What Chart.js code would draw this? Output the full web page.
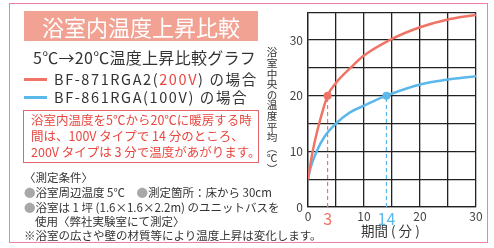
<!DOCTYPE html>
<html>
<head>
<meta charset="utf-8">
<script src="https://cdn.jsdelivr.net/npm/chart.js@4"></script>
<style>
  html, body { margin: 0; padding: 0; background: #fff; }
  body { width: 494px; height: 248px; position: relative; overflow: hidden;
         font-family: 'Noto Sans CJK JP', sans-serif; color: #333; }
  #wrap { position: absolute; left: 0; top: 0; width: 494px; height: 248px; }
  .frame { position: absolute; left: 9px; top: 3px; width: 479px; height: 240px;
           border: 1.5px solid #ef82a4; box-sizing: border-box; }
  .t { position: absolute; white-space: nowrap; line-height: 1; }
  .banner { position: absolute; left: 24px; top: 11px; width: 234px; height: 30px;
            background: #f2a293; color: #fff; font-size: 22px; text-align: center; line-height: 30px; }
  .leg { position: absolute; left: 24px; width: 23px; height: 3px; }
  .box { position: absolute; left: 23px; top: 110px; width: 236px; height: 53px;
         border: 1.5px solid #e2666a; box-sizing: border-box; }
  .red { color: #e8473f; }
  .dot { color: #a8a8a8; }
  .ytitle { position: absolute; left: 266px; top: 47px; font-size: 10.6px; line-height: 1;
            writing-mode: vertical-rl; text-orientation: upright; color: #333; }
</style>
</head>
<body>
<div id="wrap"><canvas id="chart"></canvas></div>
<div class="frame"></div>
<div class="banner">浴室内温度上昇比較</div>
<div class="t" style="left:33px;top:49px;font-size:16px;letter-spacing:0.3px;">5℃→20℃温度上昇比較グラフ</div>
<div class="leg" style="top:78px;background:#ef7466;"></div>
<div class="t" style="left:54px;top:72px;font-size:14.5px;letter-spacing:1.6px;">BF-871RGA2(<span class="red">200V</span>) の場合</div>
<div class="leg" style="top:96px;background:#5bb8ea;"></div>
<div class="t" style="left:54px;top:90px;font-size:14.5px;letter-spacing:1.6px;">BF-861RGA(100V) の場合</div>
<div class="box"></div>
<div class="t red" style="left:31px;top:114px;font-size:12.5px;">浴室内温度を5℃から20℃に暖房する時</div>
<div class="t red" style="left:31px;top:130px;font-size:12.5px;">間は、100V タイプで 14 分のところ、</div>
<div class="t red" style="left:31px;top:146px;font-size:12.5px;">200V タイプは 3 分で温度があがります。</div>
<div class="t" style="left:24px;top:172px;font-size:11.5px;">〈測定条件〉</div>
<div class="t" style="left:24px;top:187px;font-size:11.5px;"><span class="dot">●</span>浴室周辺温度 5℃　<span class="dot">●</span>測定箇所：床から 30cm</div>
<div class="t" style="left:24px;top:202px;font-size:11.5px;"><span class="dot">●</span>浴室は 1 坪 (1.6×1.6×2.2m) のユニットバスを</div>
<div class="t" style="left:35px;top:216px;font-size:11.5px;">使用〈弊社実験室にて測定〉</div>
<div class="t" style="left:24px;top:230px;font-size:11.5px;">※浴室の広さや壁の材質等により温度上昇は変化します。</div>
<div class="ytitle">浴室中央の温度平均（℃）</div>
<div class="t" style="left:361px;top:224px;font-size:13.5px;">期間 ( 分 )</div>
<script>
// 200V model (red) and 100V model (blue)
var redMinutes = [0, 0.84, 2.0, 3.5, 5, 7.5, 10, 15, 20, 25, 30];
var redTemps   = [5, 10, 15, 20, 22.3, 24.9, 27.2, 30.2, 32.3, 33.7, 34.5];
var blueMinutes = [0, 0.5, 1.55, 3, 5, 7.5, 10, 12.3, 14, 20, 25, 30];
var blueTemps   = [5, 7.2, 10, 12.7, 15, 17.0, 18.2, 19.3, 20, 22, 22.9, 23.5];
// 20 degree crossing marks
var redMark = { x: 3.5, y: 20, label: '3' };
var blueMark = { x: 14, y: 20, label: '14' };
var xTickValues = [0, 5, 10, 15, 20, 25, 30];
var xTickLabels = ['0', '', '10', '', '20', '', '30'];
var yTickLabels = { 0: '0', 10: '10', 20: '20', 30: '30' };

var RED = '#ef7466';
var BLUE = '#5bb8ea';

function pts(xs, ys) {
    return xs.map(function (x, i) { return { x: x, y: ys[i] }; });
}

var ctx = document.getElementById('chart').getContext('2d');
var myChart = new Chart(ctx, {
    type: 'scatter',
    data: {
        datasets: [{
            data: [{ x: redMark.x, y: 0 }, { x: redMark.x, y: redMark.y }],
            showLine: true,
            borderColor: RED,
            borderWidth: 1.2,
            borderDash: [4, 3],
            pointRadius: 0
        }, {
            data: [{ x: blueMark.x, y: 0 }, { x: blueMark.x, y: blueMark.y }],
            showLine: true,
            borderColor: BLUE,
            borderWidth: 1.2,
            borderDash: [4, 3],
            pointRadius: 0
        }, {
            data: pts(redMinutes, redTemps),
            showLine: true,
            borderColor: RED,
            borderWidth: 2.5,
            cubicInterpolationMode: 'monotone',
            pointRadius: 0
        }, {
            data: pts(blueMinutes, blueTemps),
            showLine: true,
            borderColor: BLUE,
            borderWidth: 2.5,
            cubicInterpolationMode: 'monotone',
            pointRadius: 0
        }, {
            data: [{ x: redMark.x, y: redMark.y }],
            pointRadius: 4,
            pointBackgroundColor: RED,
            pointBorderWidth: 0
        }, {
            data: [{ x: blueMark.x, y: blueMark.y }],
            pointRadius: 4,
            pointBackgroundColor: BLUE,
            pointBorderWidth: 0
        }]
    },
    options: {
        responsive: true,
        maintainAspectRatio: false,
        animation: false,
        layout: { padding: { left: 250, right: 18, top: 12, bottom: 0 } },
        plugins: { legend: { display: false }, tooltip: { enabled: false } },
        scales: {
            x: {
                type: 'linear',
                min: 0,
                max: 30,
                afterFit: function (scale) { scale.height = 41; },
                afterBuildTicks: function (scale) {
                    var t = xTickValues.concat([redMark.x, blueMark.x]);
                    t.sort(function (a, b) { return a - b; });
                    scale.ticks = t.map(function (v) { return { value: v }; });
                },
                grid: {
                    drawTicks: false,
                    lineWidth: 1.3,
                    color: function (c) {
                        if (!c.tick) return '#222';
                        return (c.tick.value === redMark.x || c.tick.value === blueMark.x) ? 'rgba(0,0,0,0)' : '#222';
                    }
                },
                border: { color: '#222', width: 1.3 },
                ticks: {
                    autoSkip: false,
                    maxRotation: 0,
                    padding: 2,
                    callback: function (v) {
                        if (v === redMark.x) return redMark.label;
                        if (v === blueMark.x) return blueMark.label;
                        var i = xTickValues.indexOf(v);
                        return i >= 0 ? xTickLabels[i] : '';
                    },
                    color: function (c) {
                        if (c.tick && c.tick.value === redMark.x) return RED;
                        if (c.tick && c.tick.value === blueMark.x) return BLUE;
                        return '#444';
                    },
                    font: function (c) {
                        var big = c.tick && (c.tick.value === redMark.x || c.tick.value === blueMark.x);
                        return { family: "'Noto Sans CJK JP', sans-serif", size: big ? 16 : 12 };
                    }
                }
            },
            y: {
                min: 0,
                max: 35,
                afterFit: function (scale) { scale.width = 58; },
                grid: { drawTicks: false, color: '#222', lineWidth: 1.3 },
                border: { color: '#222', width: 1.3 },
                ticks: {
                    stepSize: 5,
                    padding: 5,
                    color: '#444',
                    font: { family: "'Noto Sans CJK JP', sans-serif", size: 12 },
                    callback: function (v) { return yTickLabels[v] !== undefined ? yTickLabels[v] : ''; }
                }
            }
        }
    }
});
</script>
</body>
</html>
